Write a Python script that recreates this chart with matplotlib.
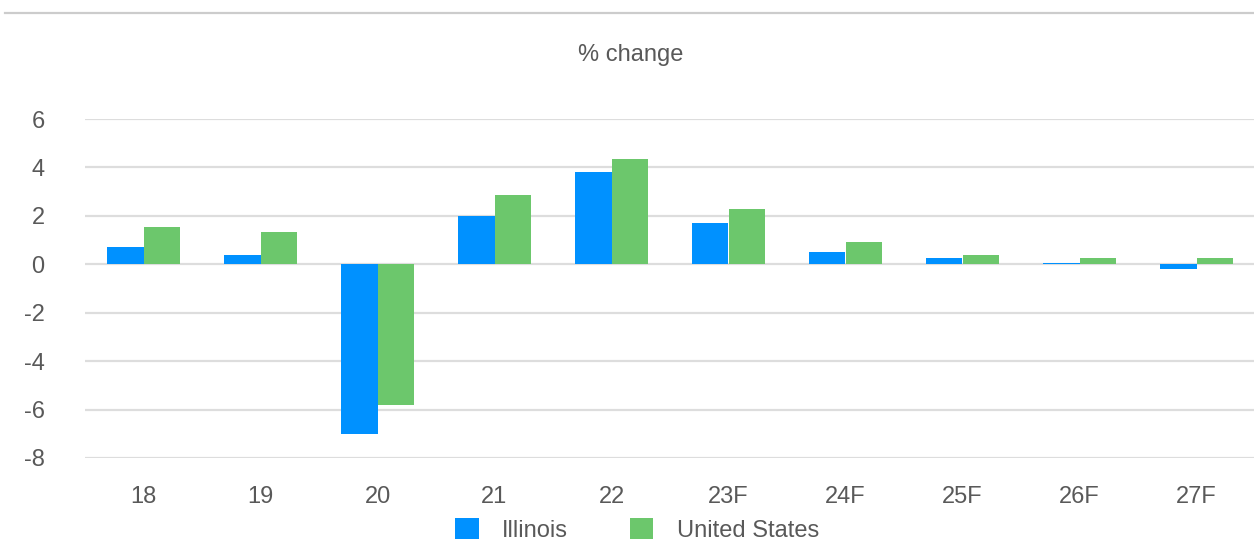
import matplotlib.pyplot as plt
import numpy as np
from matplotlib.lines import Line2D

plt.rcParams['font.family'] = ['Liberation Sans', 'DejaVu Sans']
plt.rcParams['axes.unicode_minus'] = False

years = ["18", "19", "20", "21", "22", "23F", "24F", "25F", "26F", "27F"]
illinois = [0.7, 0.4, -7.0, 2.0, 3.8, 1.7, 0.5, 0.25, 0.05, -0.2]
united_states = [1.55, 1.35, -5.8, 2.85, 4.35, 2.3, 0.9, 0.4, 0.25, 0.25]

text_color = "#595959"
blue = "#0091ff"
green = "#6cc76c"

fig = plt.figure(figsize=(12.54, 5.41), dpi=100)
ax = fig.add_axes([85 / 1254, 1 - 458 / 541, 1170 / 1254, (458 - 119) / 541])

x = np.arange(len(years))
w = 0.31
ax.bar(x - w / 2, illinois, w, color=blue, label="Illinois", zorder=3)
ax.bar(x + w / 2, united_states, w, color=green, label="United States", zorder=3)

ax.set_xlim(-0.5, len(years) - 0.5)
ax.set_ylim(-8, 6)
ax.set_yticks(range(-8, 7, 2))
ax.set_xticks(x)
ax.set_xticklabels(years)
ax.grid(axis='y', color="#dddddd", linewidth=1.6, zorder=0)
ax.tick_params(axis='both', length=0, labelsize=17, labelcolor=text_color)
ax.tick_params(axis='x', pad=20)
ax.tick_params(axis='y', pad=29)
for s in ax.spines.values():
    s.set_visible(False)

# chart title and top rule
fig.text(631 / 1254, 1 - 55 / 541, "% change", ha='center', va='center',
         fontsize=17, color=text_color)
fig.add_artist(Line2D([5 / 1254, 1.0], [1 - 12.5 / 541] * 2, color="#cccccc",
                      linewidth=1.6, transform=fig.transFigure))

fig.legend(loc='center', bbox_to_anchor=(637 / 1254, 1 - 530 / 541), ncol=2,
           frameon=False, fontsize=17, labelcolor=text_color, handlelength=1.0,
           handleheight=1.0, handletextpad=1.0, columnspacing=2.6,
           borderaxespad=0, borderpad=0)

fig.savefig("out.png", dpi=100)
